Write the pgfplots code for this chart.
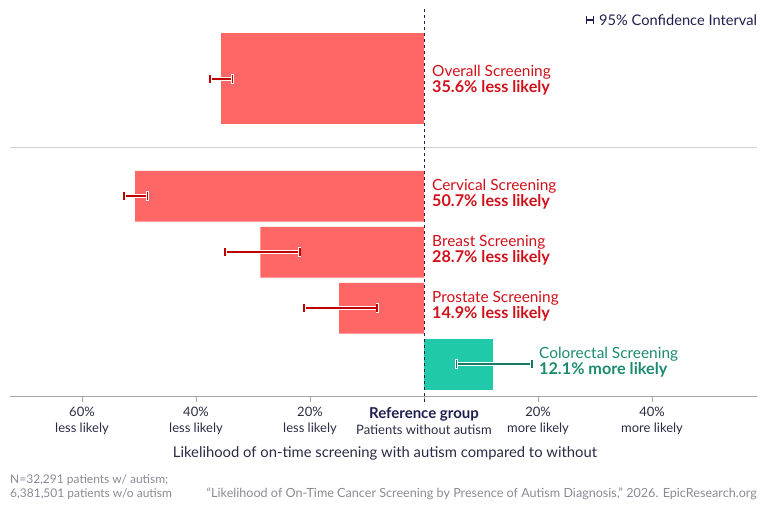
\documentclass[border=0pt]{standalone}
\usepackage{pgfplots}
\pgfplotsset{compat=1.18}
\usepackage{fontspec}
\setmainfont{Lato}
\definecolor{barred}{HTML}{FF6666}
\definecolor{barteal}{HTML}{20C9AA}
\definecolor{txtred}{HTML}{D0101A}
\definecolor{txtteal}{HTML}{1B8A70}
\definecolor{errred}{HTML}{C00000}
\definecolor{errteal}{HTML}{137A66}
\definecolor{navy}{HTML}{1F1F4F}
\definecolor{ticktext}{HTML}{2B2B45}
\definecolor{foot}{HTML}{8A8A94}
\newcommand{\lbl}[2]{{\fontsize{15.4}{18}\selectfont #1}\\{\fontsize{16.2}{18}\selectfont\bfseries #2}}
\begin{document}
\begin{tikzpicture}
\path (0pt,0pt) rectangle (768pt,512pt);
\begin{axis}[
  at={(10pt,116pt)}, anchor=south west, scale only axis,
  width=747pt, height=396pt,
  xmin=-72.63, xmax=58.42, ymin=0, ymax=396,
  clip=false,
  axis y line=none, axis x line=bottom,
  x axis line style={-, draw=gray!70, line width=0.8pt},
  xtick={-60,-40,-20,0,20,40},
  xticklabels={{60\%\\less likely},{40\%\\less likely},{20\%\\less likely},{{\fontsize{15}{16}\selectfont\bfseries\color{navy}Reference group}\\Patients without autism},{20\%\\more likely},{40\%\\more likely}},
  xticklabel style={font=\fontsize{13}{16}\selectfont, text=ticktext, align=center, yshift=-2pt},
  tick align=outside, major tick length=6pt,
  x tick style={draw=gray!70, line width=0.8pt},
]
% separator
\addplot[draw=gray!35, line width=0.8pt] coordinates {(-72.63,248.5) (58.42,248.5)};
% bars
\addplot[xbar, bar shift=0pt, bar width=91, fill=barred, draw=none] coordinates {(-35.6,317.5)};
\addplot[xbar, bar shift=0pt, bar width=50.7, fill=barred, draw=none] coordinates {(-50.7,199.7) (-28.7,143.7) (-14.9,87.7)};
\addplot[xbar, bar shift=0pt, bar width=50.7, fill=barteal, draw=none] coordinates {(12.1,31.7)};
% reference line
\addplot[navy, dashed, line width=0.9pt] coordinates {(0,-6) (0,388)};
% confidence intervals
\addplot[white, line width=4pt, mark=|, mark size=5pt, mark options={line width=3.5pt}] coordinates {(-37.5,317.2) (-33.6,317.2)};
\addplot[errred, line width=2pt, mark=|, mark size=4pt, mark options={line width=1.8pt}] coordinates {(-37.5,317.2) (-33.6,317.2)};
\addplot[white, line width=4pt, mark=|, mark size=5pt, mark options={line width=3.5pt}] coordinates {(-52.6,199.7) (-48.5,199.7)};
\addplot[errred, line width=2pt, mark=|, mark size=4pt, mark options={line width=1.8pt}] coordinates {(-52.6,199.7) (-48.5,199.7)};
\addplot[white, line width=4pt, mark=|, mark size=5pt, mark options={line width=3.5pt}] coordinates {(-34.9,143.7) (-21.8,143.7)};
\addplot[errred, line width=2pt, mark=|, mark size=4pt, mark options={line width=1.8pt}] coordinates {(-34.9,143.7) (-21.8,143.7)};
\addplot[white, line width=4pt, mark=|, mark size=5pt, mark options={line width=3.5pt}] coordinates {(-21.0,87.7) (-8.2,87.7)};
\addplot[errred, line width=2pt, mark=|, mark size=4pt, mark options={line width=1.8pt}] coordinates {(-21.0,87.7) (-8.2,87.7)};
\addplot[white, line width=4pt, mark=|, mark size=5pt, mark options={line width=3.5pt}] coordinates {(5.7,31.7) (18.9,31.7)};
\addplot[errteal, line width=2pt, mark=|, mark size=4pt, mark options={line width=1.8pt}] coordinates {(5.7,31.7) (18.9,31.7)};
\end{axis}
% bar labels
\begin{scope}[every node/.style={anchor=west, align=left, inner sep=0pt}]
\node[text=txtred] at (432pt,432pt) {\lbl{Overall Screening}{35.6\% less likely}};
\node[text=txtred] at (432pt,317.5pt) {\lbl{Cervical Screening}{50.7\% less likely}};
\node[text=txtred] at (432pt,261.5pt) {\lbl{Breast Screening}{28.7\% less likely}};
\node[text=txtred] at (432pt,205.5pt) {\lbl{Prostate Screening}{14.9\% less likely}};
\node[text=txtteal] at (539pt,150pt) {\lbl{Colorectal Screening}{12.1\% more likely}};
\end{scope}
% legend
\draw[navy, line width=2pt] (586pt,492pt) -- (594pt,492pt);
\draw[navy, line width=1.6pt] (586.5pt,488pt) -- (586.5pt,496pt) (593.5pt,488pt) -- (593.5pt,496pt);
\node[anchor=west, inner sep=0pt, text=navy, font=\fontsize{14.65}{16}\selectfont] at (599pt,492pt) {95\% Confidence Interval};
% axis title
\node[text=ticktext, inner sep=0pt, font=\fontsize{14.8}{17}\selectfont] at (385pt,59pt) {Likelihood of on-time screening with autism compared to without};
% footer
\node[anchor=west, align=left, inner sep=0pt, text=foot, font=\fontsize{12}{14.5}\selectfont] at (10pt,25pt) {N=32,291 patients w/ autism;\\6,381,501 patients w/o autism};
\node[anchor=east, inner sep=0pt, text=foot, font=\fontsize{12.6}{14}\selectfont] at (757pt,18pt) {“Likelihood of On-Time Cancer Screening by Presence of Autism Diagnosis,” 2026. EpicResearch.org};
\end{tikzpicture}
\end{document}
